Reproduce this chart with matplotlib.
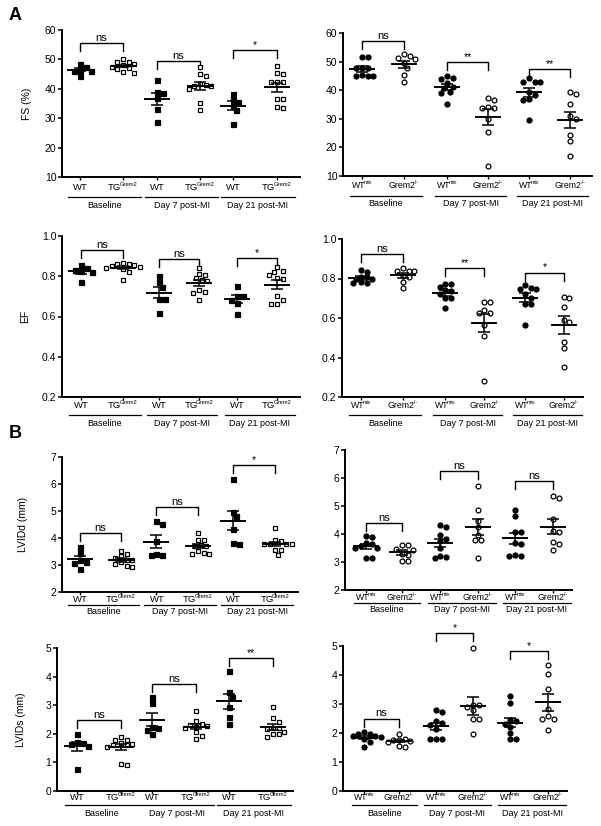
import matplotlib
matplotlib.use('Agg')
import numpy as np
import matplotlib.pyplot as plt
from matplotlib.lines import Line2D
from matplotlib.transforms import ScaledTranslation, blended_transform_factory

plt.rcParams['font.family'] = ['Liberation Sans', 'DejaVu Sans']

# ---- data ----
# tick labels: (base text, superscript)
groups_left = [('WT', ''), ('TG', 'Grem2')] * 3
groups_right = [('WT', 'mix'), ('Grem2', '-/-')] * 3
timepoints = ['Baseline', 'Day 7 post-MI', 'Day 21 post-MI']

fs_tg = [[48.5, 47.5, 46.5, 46.2, 46.0, 44.3],
         [50.3, 49.2, 49.0, 48.6, 48.0, 47.5, 47.0, 46.8, 45.8, 45.5],
         [43.0, 39.0, 38.5, 36.8, 33.2, 28.8],
         [47.5, 45.2, 44.3, 41.8, 41.2, 40.9, 40.8, 40.1, 35.0, 32.7],
         [38.4, 36.4, 35.5, 34.4, 32.7, 28.0],
         [47.7, 45.5, 45.0, 42.4, 42.4, 42.2, 36.4, 36.4, 33.9, 33.3]]
fs_ko = [[51.6, 51.6, 47.7, 47.7, 47.7, 45.4, 45.0, 45.0, 45.0],
         [52.7, 52.0, 51.2, 50.9, 49.5, 47.7, 45.4, 43.0],
         [45.0, 44.2, 43.8, 42.4, 41.0, 40.7, 39.2, 38.9, 35.2],
         [37.2, 36.6, 34.2, 33.7, 33.7, 30.1, 25.5, 13.4],
         [44.2, 42.7, 42.7, 42.7, 39.2, 38.3, 36.8, 36.6, 29.6],
         [39.2, 38.6, 35.2, 31.0, 29.8, 24.3, 22.3, 17.0]]
ef_tg = [[0.855, 0.842, 0.833, 0.826, 0.822, 0.772],
         [0.865, 0.862, 0.86, 0.857, 0.852, 0.848, 0.84, 0.835, 0.82, 0.78],
         [0.803, 0.77, 0.747, 0.687, 0.687, 0.617],
         [0.842, 0.813, 0.808, 0.79, 0.783, 0.775, 0.733, 0.72, 0.717, 0.68],
         [0.753, 0.70, 0.70, 0.683, 0.667, 0.612],
         [0.845, 0.825, 0.82, 0.808, 0.79, 0.787, 0.70, 0.683, 0.663, 0.66]]
ef_ko = [[0.843, 0.835, 0.81, 0.806, 0.80, 0.795, 0.78, 0.778, 0.775],
         [0.852, 0.838, 0.838, 0.838, 0.813, 0.81, 0.784, 0.754],
         [0.772, 0.77, 0.755, 0.74, 0.735, 0.72, 0.70, 0.70, 0.65],
         [0.68, 0.68, 0.64, 0.624, 0.624, 0.565, 0.509, 0.282],
         [0.767, 0.75, 0.745, 0.745, 0.72, 0.70, 0.67, 0.67, 0.565],
         [0.708, 0.70, 0.654, 0.59, 0.578, 0.477, 0.45, 0.35]]
lvidd_tg = [[3.66, 3.43, 3.2, 3.1, 3.07, 2.85],
            [3.53, 3.4, 3.32, 3.25, 3.2, 3.18, 3.1, 3.05, 2.95, 2.92],
            [4.62, 4.53, 3.9, 3.4, 3.38, 3.38],
            [4.2, 3.93, 3.92, 3.75, 3.72, 3.7, 3.53, 3.43, 3.4, 3.4],
            [6.19, 4.97, 4.8, 4.34, 3.82, 3.76],
            [4.38, 3.93, 3.9, 3.78, 3.76, 3.76, 3.76, 3.56, 3.56, 3.38]]
lvidd_ko = [[3.94, 3.88, 3.67, 3.64, 3.58, 3.5, 3.5, 3.14, 3.14],
            [3.59, 3.59, 3.46, 3.44, 3.3, 3.26, 3.05, 3.05],
            [4.33, 4.24, 3.95, 3.82, 3.75, 3.5, 3.2, 3.18, 3.15],
            [5.71, 4.85, 4.48, 4.24, 3.97, 3.8, 3.78, 3.14],
            [4.85, 4.63, 4.06, 4.06, 3.68, 3.64, 3.26, 3.2, 3.2],
            [5.35, 5.27, 4.55, 4.1, 4.06, 3.7, 3.65, 3.44]]
lvids_tg = [[2.0, 1.7, 1.68, 1.65, 1.56, 0.78],
            [1.88, 1.8, 1.78, 1.68, 1.65, 1.62, 1.6, 1.55, 0.96, 0.9],
            [3.28, 3.09, 2.25, 2.2, 2.14, 2.0],
            [2.81, 2.45, 2.35, 2.3, 2.28, 2.25, 2.2, 2.05, 1.91, 1.82],
            [4.19, 3.45, 3.28, 2.95, 2.58, 2.34],
            [2.93, 2.55, 2.4, 2.22, 2.2, 2.18, 2.05, 2.0, 1.98, 1.88]]
lvids_ko = [[2.02, 1.98, 1.95, 1.9, 1.88, 1.85, 1.78, 1.7, 1.52],
            [1.96, 1.81, 1.77, 1.75, 1.73, 1.7, 1.55, 1.53],
            [2.79, 2.73, 2.42, 2.33, 2.27, 2.15, 1.81, 1.8, 1.78],
            [4.93, 2.98, 2.96, 2.9, 2.79, 2.5, 2.48, 1.98],
            [3.27, 3.02, 2.45, 2.4, 2.3, 2.2, 2.0, 1.81, 1.8],
            [4.36, 4.05, 3.51, 2.84, 2.58, 2.5, 2.5, 2.1]]

# significance per timepoint and bracket heights (data units)
sig_fs_tg, brk_fs_tg = ['ns', 'ns', '*'], [55.7, 49.4, 53.2]
sig_fs_ko, brk_fs_ko = ['ns', '**', '**'], [57.1, 49.8, 47.5]
sig_ef_tg, brk_ef_tg = ['ns', 'ns', '*'], [0.93, 0.887, 0.892]
sig_ef_ko, brk_ef_ko = ['ns', '**', '*'], [0.922, 0.852, 0.83]
sig_dd_tg, brk_dd_tg = ['ns', 'ns', '*'], [4.18, 5.13, 6.69]
sig_dd_ko, brk_dd_ko = ['ns', 'ns', 'ns'], [4.39, 6.25, 5.89]
sig_ds_tg, brk_ds_tg = ['ns', 'ns', '**'], [2.49, 3.74, 4.65]
sig_ds_ko, brk_ds_ko = ['ns', '*', '*'], [2.5, 5.45, 4.83]

W, H = 601, 826
fig = plt.figure(figsize=(W / 100, H / 100), dpi=100)
renderer = fig.canvas.get_renderer()


def shift(dx, dy):
    # offset in pixels (dy positive = downwards)
    return ScaledTranslation(dx / 100., -dy / 100., fig.dpi_scale_trans)


def swarm(ax, vals, d):
    # simple beeswarm in pixel space, returns x offsets in axes fraction
    yp = ax.transData.transform([(0, v) for v in vals])[:, 1]
    width = ax.get_window_extent().width
    cands = sorted([k * d / 2. for k in range(-10, 11)], key=lambda o: (abs(o), -o))
    placed = []
    for y in yp:
        for o in cands:
            if all((o - px) ** 2 + (y - py) ** 2 >= (d * 0.95) ** 2 for px, py in placed):
                placed.append((o, y))
                break
    return np.array([p[0] for p in placed]) / width


def sup_label(ax, x, base, sup, dy, fs):
    trans = blended_transform_factory(ax.transData, ax.transAxes)
    t1 = ax.text(x, 0, base, ha='left', va='center', fontsize=fs, transform=trans)
    w1 = t1.get_window_extent(renderer).width - 1.5
    w2 = 0
    t2 = None
    if sup:
        t2 = ax.text(x, 0, sup, ha='left', va='center', fontsize=fs * 0.62, transform=trans)
        w2 = t2.get_window_extent(renderer).width
    tot = w1 + w2
    t1.set_transform(trans + shift(-tot / 2, dy))
    if t2 is not None:
        t2.set_transform(trans + shift(w1 - tot / 2, dy - 3))


def panel(box, xpos, data, ylim, yticks, ylab, sigs, brks, marker, ticklabels,
          offs, ylab_x=None, fmt='{:g}', lab_fs=6.8):
    l, r, t, b = box
    ax = fig.add_axes([l / W, 1 - b / H, (r - l) / W, (b - t) / H])
    ax.set_xlim(0, 1)
    ax.set_ylim(*ylim)
    for s in ['top', 'right']:
        ax.spines[s].set_visible(False)
    for s in ['left', 'bottom']:
        ax.spines[s].set_linewidth(1.4)
    ax.set_yticks(yticks)
    ax.set_yticklabels([fmt.format(v) for v in yticks])
    ax.tick_params(axis='y', length=3, width=1.1, labelsize=7.5, pad=1)
    ax.set_xticks(xpos)
    ax.tick_params(axis='x', length=2.5, width=1, labelbottom=False)
    for x, (base, sup) in zip(xpos, ticklabels):
        sup_label(ax, x, base, sup, offs[0], lab_fs)
    if ylab:
        ax.set_ylabel(ylab, fontsize=7.5)
        ax.yaxis.set_label_coords(ylab_x, 0.5)

    axw = r - l
    hw = 12. / axw
    for i, vals in enumerate(data):
        x = xpos[i]
        filled = i % 2 == 0
        dx = swarm(ax, vals, 5.6)
        ax.plot(x + dx, vals, ls='none', marker=marker,
                ms=3.6 if filled else 3.5, mfc='black' if filled else 'white',
                mec='black', mew=0.9, zorder=3, clip_on=False)
        m = np.mean(vals)
        se = np.std(vals, ddof=1) / np.sqrt(len(vals))
        ax.plot([x - hw, x + hw], [m, m], color='black', lw=1.4, zorder=4)
        ax.errorbar(x, m, yerr=se, color='black', lw=1.1, capsize=4.5,
                    capthick=1.1, zorder=4)

    tick_len = 8. * (ylim[1] - ylim[0]) / (b - t)
    for k in range(3):
        x1, x2 = xpos[2 * k], xpos[2 * k + 1]
        yb = brks[k]
        ax.plot([x1, x1, x2, x2], [yb - tick_len, yb, yb, yb - tick_len],
                color='black', lw=1.0, clip_on=False)
        ax.text((x1 + x2) / 2, yb, sigs[k], ha='center', va='bottom',
                fontsize=8 if sigs[k] == 'ns' else 7.5)
        # group underline and caption
        line = Line2D([x1 - 12. / axw, x2 + 18. / axw], [0, 0], color='black', lw=0.9,
                      transform=ax.transAxes + shift(0, offs[1]), clip_on=False)
        ax.add_line(line)
        ax.text((x1 + x2) / 2 + 3. / axw, 0, timepoints[k], ha='center', va='center',
                fontsize=6.5, transform=ax.transAxes + shift(0, offs[2]))
    return ax


row1 = (10, 20, 28)
row2 = (8, 18, 26)
row3 = (7, 13, 20)
row4 = (7, 14, 22)

panel((62, 300, 30, 177), [0.076, 0.256, 0.399, 0.58, 0.718, 0.903], fs_tg,
      (10, 60), [10, 20, 30, 40, 50, 60], 'FS (%)', sig_fs_tg, brk_fs_tg, 's',
      groups_left, row1, ylab_x=-0.126)
panel((343, 592, 33, 176), [0.076, 0.245, 0.418, 0.582, 0.747, 0.912], fs_ko,
      (10, 60), [10, 20, 30, 40, 50, 60], None, sig_fs_ko, brk_fs_ko, 'o',
      groups_right, row1, lab_fs=6.3)
panel((62, 300, 236, 397), [0.08, 0.256, 0.408, 0.576, 0.735, 0.903], ef_tg,
      (0.2, 1.0), [0.2, 0.4, 0.6, 0.8, 1.0], 'EF', sig_ef_tg, brk_ef_tg, 's',
      groups_left, row2, ylab_x=-0.134, fmt='{:.1f}')
panel((342, 583, 239, 397), [0.08, 0.253, 0.428, 0.59, 0.76, 0.92], ef_ko,
      (0.2, 1.0), [0.2, 0.4, 0.6, 0.8, 1.0], None, sig_ef_ko, brk_ef_ko, 'o',
      groups_right, row2, fmt='{:.1f}', lab_fs=6.3)
panel((62, 298, 457, 592), [0.076, 0.25, 0.40, 0.576, 0.725, 0.903], lvidd_tg,
      (2, 7), [2, 3, 4, 5, 6, 7], 'LVIDd (mm)', sig_dd_tg, brk_dd_tg, 's',
      groups_left, row3, ylab_x=-0.144)
panel((345, 572, 450, 590), [0.093, 0.251, 0.419, 0.586, 0.749, 0.916], lvidd_ko,
      (2, 7), [2, 3, 4, 5, 6, 7], None, sig_dd_ko, brk_dd_ko, 'o',
      groups_right, row3, lab_fs=6.3)
panel((57, 293, 648, 791), [0.085, 0.271, 0.403, 0.589, 0.729, 0.915], lvids_tg,
      (0, 5), [0, 1, 2, 3, 4, 5], 'LVIDs (mm)', sig_ds_tg, brk_ds_tg, 's',
      groups_left, row4, ylab_x=-0.131)
panel((343, 567, 646, 791), [0.094, 0.25, 0.415, 0.58, 0.746, 0.915], lvids_ko,
      (0, 5), [0, 1, 2, 3, 4, 5], None, sig_ds_ko, brk_ds_ko, 'o',
      groups_right, row4, lab_fs=6.3)

fig.text(15 / W, 1 - 16 / H, 'A', fontsize=13, fontweight='bold', ha='center', va='center')
fig.text(15 / W, 1 - 433 / H, 'B', fontsize=13, fontweight='bold', ha='center', va='center')

fig.savefig('out.png', dpi=100, facecolor='white')
